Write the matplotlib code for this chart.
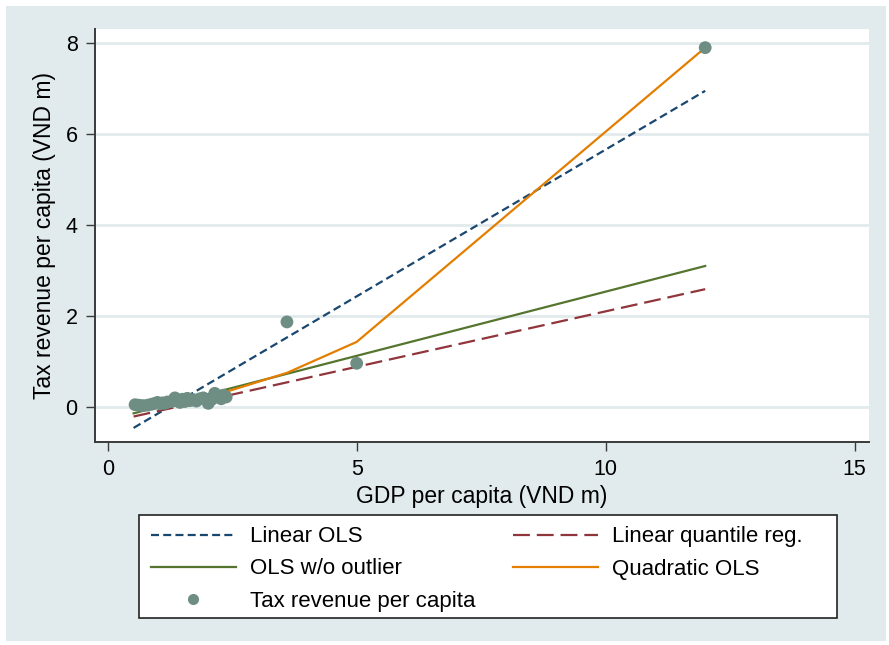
import numpy as np
import matplotlib
matplotlib.use("Agg")
import matplotlib.pyplot as plt
from matplotlib.patches import Rectangle
from matplotlib.lines import Line2D

plt.rcParams['font.family'] = ['Liberation Sans', 'DejaVu Sans']

# Provincial observations: GDP per capita vs tax revenue per capita (VND m)
gdp = [0.55, 0.62, 0.70, 0.80, 0.88, 0.95, 1.00, 1.05, 1.10, 1.15, 1.20,
       1.28, 1.35, 1.40, 1.45, 1.50, 1.55, 1.60, 1.65, 1.72, 1.78, 1.85,
       1.92, 2.02, 2.08, 2.15, 2.20, 2.28, 2.33, 2.38, 3.60, 5.00, 12.00]
tax = [0.05, 0.04, 0.03, 0.04, 0.06, 0.08, 0.10, 0.07, 0.09, 0.08, 0.11,
       0.12, 0.20, 0.14, 0.10, 0.17, 0.12, 0.19, 0.14, 0.16, 0.13, 0.18,
       0.20, 0.08, 0.16, 0.30, 0.22, 0.18, 0.26, 0.22, 1.87, 0.96, 7.90]

# Fitted lines, evaluated at the sample extremes / kink points
ols_x = [0.52, 12.0]
ols_y = [-0.46, 6.95]
qreg_x = [0.52, 12.0]
qreg_y = [-0.21, 2.59]
ols_wo_x = [0.52, 12.0]
ols_wo_y = [-0.14, 3.10]
quad_x = [0.52, 1.5, 2.4, 3.6, 5.0, 12.0]
quad_y = [-0.03, 0.11, 0.34, 0.75, 1.43, 7.90]

xticks = [0, 5, 10, 15]
yticks = [0, 2, 4, 6, 8]

bg = '#e1eaed'
c_ols = '#1a476f'
c_qreg = '#90353b'
c_wo = '#55752f'
c_quad = '#e37e00'
c_pts = '#6e8e84'

lw = 1.6
d_ols = (3.6, 1.9)
d_qreg = (7.6, 3.1)

W, H = 889, 645
fig = plt.figure(figsize=(W / 100, H / 100), dpi=100, facecolor='white')
fig.patches.append(Rectangle((6 / W, 4 / H), 880 / W, 635 / H,
                             transform=fig.transFigure, facecolor=bg,
                             edgecolor='none', zorder=-10))

ax = fig.add_axes([95 / W, 1 - 442 / H, 774 / W, 413 / H])
ax.set_facecolor('white')

ax.plot(ols_x, ols_y, color=c_ols, lw=lw, dashes=d_ols, zorder=3)
ax.plot(qreg_x, qreg_y, color=c_qreg, lw=lw, dashes=d_qreg, zorder=3)
ax.plot(ols_wo_x, ols_wo_y, color=c_wo, lw=lw, zorder=3)
ax.plot(quad_x, quad_y, color=c_quad, lw=lw, zorder=3)
ax.scatter(gdp, tax, s=85, color=c_pts, edgecolors='none', zorder=4)

ax.set_xlim(-0.255, 15.29)
ax.set_ylim(-0.77, 8.31)
ax.set_xticks(xticks)
ax.set_yticks(yticks)
ax.yaxis.grid(True, color=bg, lw=2.0)
ax.set_axisbelow(True)
for s in ['top', 'right']:
    ax.spines[s].set_visible(False)
for s in ['left', 'bottom']:
    ax.spines[s].set_color('#3a3a3a')
    ax.spines[s].set_linewidth(1.4)
ax.tick_params(direction='out', length=6.5, width=1.0, color='#3a3a3a',
               labelsize=15.5, pad=6)
ax.set_xlabel('GDP per capita (VND m)', fontsize=16.5, labelpad=3)
ax.set_ylabel('Tax revenue per capita (VND m)', fontsize=16.5, labelpad=7)

# legend box drawn separately so it can be wider than its contents
fig.patches.append(Rectangle((139 / W, 1 - 618 / H), 698 / W, 103 / H,
                             transform=fig.transFigure, facecolor='white',
                             edgecolor='#222222', lw=1.2, zorder=1))

handles = [
    Line2D([], [], color=c_ols, lw=lw, dashes=d_ols),
    Line2D([], [], color=c_wo, lw=lw),
    Line2D([], [], ls='none', marker='o', ms=8, color=c_pts, mec='none'),
    Line2D([], [], color=c_qreg, lw=lw, dashes=d_qreg),
    Line2D([], [], color=c_quad, lw=lw),
]
labels = ['Linear OLS', 'OLS w/o outlier', 'Tax revenue per capita',
          'Linear quantile reg.', 'Quadratic OLS']
leg = fig.legend(handles, labels, ncol=2, loc='center',
                 bbox_to_anchor=(477 / W, 1 - 569 / H), fontsize=16,
                 frameon=False, handlelength=3.8,
                 handletextpad=0.65, columnspacing=1.7, labelspacing=0.5,
                 borderpad=0.5)
leg.set_zorder(2)

fig.savefig('out.png', dpi=100, facecolor='white')
